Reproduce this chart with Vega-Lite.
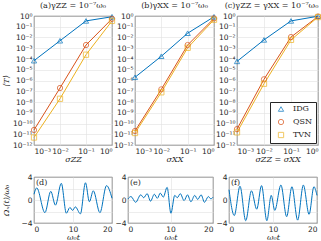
{
"$schema": "https://vega.github.io/schema/vega-lite/v6.json",
"padding": {"left": 1, "top": 1, "right": 0, "bottom": 0},
"background": "white",
"datasets": {
"top": [
{"p":"a","s":"IDG","x":0.001,"y":7e-5},{"p":"a","s":"IDG","x":0.01,"y":5e-3},{"p":"a","s":"IDG","x":0.1,"y":0.35},{"p":"a","s":"IDG","x":1,"y":0.85},
{"p":"a","s":"QSN","x":0.001,"y":2.5e-11},{"p":"a","s":"QSN","x":0.01,"y":2e-7},{"p":"a","s":"QSN","x":0.1,"y":2e-3},{"p":"a","s":"QSN","x":1,"y":0.55},
{"p":"a","s":"TVN","x":0.001,"y":5e-12},{"p":"a","s":"TVN","x":0.01,"y":2e-8},{"p":"a","s":"TVN","x":0.1,"y":2.5e-4},{"p":"a","s":"TVN","x":1,"y":0.35},
{"p":"b","s":"IDG","x":0.001,"y":2e-6},{"p":"b","s":"IDG","x":0.01,"y":1.8e-4},{"p":"b","s":"IDG","x":0.1,"y":2.5e-2},{"p":"b","s":"IDG","x":1,"y":0.85},
{"p":"b","s":"QSN","x":0.001,"y":2e-11},{"p":"b","s":"QSN","x":0.01,"y":1.5e-7},{"p":"b","s":"QSN","x":0.1,"y":2e-3},{"p":"b","s":"QSN","x":1,"y":0.6},
{"p":"b","s":"TVN","x":0.001,"y":1.3e-11},{"p":"b","s":"TVN","x":0.01,"y":8e-8},{"p":"b","s":"TVN","x":0.1,"y":1.1e-3},{"p":"b","s":"TVN","x":1,"y":0.45},
{"p":"c","s":"IDG","x":0.001,"y":6e-5},{"p":"c","s":"IDG","x":0.01,"y":6e-3},{"p":"c","s":"IDG","x":0.1,"y":0.35},{"p":"c","s":"IDG","x":1,"y":0.95},
{"p":"c","s":"QSN","x":0.001,"y":3e-11},{"p":"c","s":"QSN","x":0.01,"y":1.3e-6},{"p":"c","s":"QSN","x":0.1,"y":1.1e-2},{"p":"c","s":"QSN","x":1,"y":0.9},
{"p":"c","s":"TVN","x":0.001,"y":1.5e-11},{"p":"c","s":"TVN","x":0.01,"y":5e-7},{"p":"c","s":"TVN","x":0.1,"y":6e-3},{"p":"c","s":"TVN","x":1,"y":0.8}
],
"bot": [
{"p":"d","t":0,"v":1.0},{"p":"d","t":0.7,"v":2.1},{"p":"d","t":2.8,"v":-2.2},{"p":"d","t":4.3,"v":1.5},{"p":"d","t":5.5,"v":-0.9},{"p":"d","t":7.0,"v":2.9},{"p":"d","t":8.3,"v":-2.3},{"p":"d","t":9.2,"v":-1.3},{"p":"d","t":9.9,"v":-1.8},{"p":"d","t":10.6,"v":-1.2},{"p":"d","t":11.9,"v":-2.4},{"p":"d","t":13.2,"v":3.0},{"p":"d","t":14.2,"v":-0.3},{"p":"d","t":15.2,"v":1.6},{"p":"d","t":16.9,"v":-2.2},{"p":"d","t":18.6,"v":2.5},{"p":"d","t":20,"v":0.3},
{"p":"e","t":0,"v":0.2},{"p":"e","t":0.7,"v":0.6},{"p":"e","t":1.8,"v":-0.4},{"p":"e","t":3.0,"v":0.9},{"p":"e","t":3.7,"v":0.4},{"p":"e","t":4.5,"v":1.1},{"p":"e","t":5.3,"v":-0.2},{"p":"e","t":6.2,"v":1.0},{"p":"e","t":6.9,"v":0.3},{"p":"e","t":7.6,"v":1.2},{"p":"e","t":8.3,"v":0.5},{"p":"e","t":9.2,"v":2.2},{"p":"e","t":10.1,"v":-2.3},{"p":"e","t":11.0,"v":0.8},{"p":"e","t":11.6,"v":0.4},{"p":"e","t":12.3,"v":1.1},{"p":"e","t":13.2,"v":-0.1},{"p":"e","t":14.0,"v":0.9},{"p":"e","t":14.8,"v":-0.3},{"p":"e","t":15.7,"v":0.8},{"p":"e","t":16.4,"v":0.1},{"p":"e","t":17.2,"v":0.9},{"p":"e","t":18.0,"v":-0.4},{"p":"e","t":18.9,"v":0.6},{"p":"e","t":19.5,"v":0.2},{"p":"e","t":20,"v":0.5},
{"p":"f","t":0,"v":1.8},{"p":"f","t":1.2,"v":-2.7},{"p":"f","t":2.5,"v":2.4},{"p":"f","t":3.8,"v":-3.6},{"p":"f","t":5.1,"v":1.6},{"p":"f","t":6.3,"v":-1.6},{"p":"f","t":7.4,"v":2.5},{"p":"f","t":8.6,"v":-3.6},{"p":"f","t":9.6,"v":0.8},{"p":"f","t":10.4,"v":-1.8},{"p":"f","t":11.8,"v":2.6},{"p":"f","t":13.1,"v":-2.9},{"p":"f","t":14.3,"v":2.3},{"p":"f","t":15.6,"v":-3.5},{"p":"f","t":16.9,"v":2.6},{"p":"f","t":18.2,"v":-2.5},{"p":"f","t":19.3,"v":2.3},{"p":"f","t":20,"v":0.8}
]
},
"spacing": 8,
"resolve": {"scale": {"color": "independent", "shape": "independent"}},
"vconcat": [
{
"hconcat": [
{
"width": 78, "height": 129,
"title": {"text": "(a)γZZ = 10⁻⁷ω₀"},
"data": {"name": "top"},
"transform": [{"filter": "datum.p === 'a'"}],
"encoding": {
"x": {"field": "x", "type": "quantitative", "scale": {"type": "log", "domain": [0.001, 1], "nice": false}, "axis": {"values": [0.001, 0.01, 0.1, 1], "labelExpr": "['10⁰','10⁻¹','10⁻²','10⁻³','10⁻⁴','10⁻⁵','10⁻⁶','10⁻⁷','10⁻⁸','10⁻⁹','10⁻¹⁰','10⁻¹¹','10⁻¹²'][round(-log(datum.value)/LN10)]", "title": "σZZ"}},
"y": {"field": "y", "type": "quantitative", "scale": {"type": "log", "domain": [1e-12, 1], "nice": false}, "axis": {"values": [1,0.1,0.01,0.001,0.0001,1e-5,1e-6,1e-7,1e-8,1e-9,1e-10,1e-11,1e-12], "labelExpr": "['10⁰','10⁻¹','10⁻²','10⁻³','10⁻⁴','10⁻⁵','10⁻⁶','10⁻⁷','10⁻⁸','10⁻⁹','10⁻¹⁰','10⁻¹¹','10⁻¹²'][round(-log(datum.value)/LN10)]", "title": "⟨T⟩", "titleX": -24}},
"color": {"field": "s", "type": "nominal", "scale": {"domain": ["IDG","QSN","TVN"], "range": ["#0072BD","#D95319","#EDB120"]}, "legend": null}
},
"layer": [
{"mark": {"type": "line", "strokeWidth": 1}, "encoding": {}},
{"mark": {"type": "point", "filled": false, "size": 28, "strokeWidth": 1}, "encoding": {"shape": {"field": "s", "type": "nominal", "scale": {"domain": ["IDG","QSN","TVN"], "range": ["triangle-up","circle","square"]}, "legend": null}}}
]
},
{
"width": 79, "height": 129,
"title": {"text": "(b)γXX = 10⁻⁷ω₀"},
"data": {"name": "top"},
"transform": [{"filter": "datum.p === 'b'"}],
"encoding": {
"x": {"field": "x", "type": "quantitative", "scale": {"type": "log", "domain": [0.001, 1], "nice": false}, "axis": {"values": [0.001, 0.01, 0.1, 1], "labelExpr": "['10⁰','10⁻¹','10⁻²','10⁻³','10⁻⁴','10⁻⁵','10⁻⁶','10⁻⁷','10⁻⁸','10⁻⁹','10⁻¹⁰','10⁻¹¹','10⁻¹²'][round(-log(datum.value)/LN10)]", "title": "σXX"}},
"y": {"field": "y", "type": "quantitative", "scale": {"type": "log", "domain": [1e-12, 1], "nice": false}, "axis": {"values": [1,0.1,0.01,0.001,0.0001,1e-5,1e-6,1e-7,1e-8,1e-9,1e-10,1e-11,1e-12], "labelExpr": "['10⁰','10⁻¹','10⁻²','10⁻³','10⁻⁴','10⁻⁵','10⁻⁶','10⁻⁷','10⁻⁸','10⁻⁹','10⁻¹⁰','10⁻¹¹','10⁻¹²'][round(-log(datum.value)/LN10)]", "title": null}},
"color": {"field": "s", "type": "nominal", "scale": {"domain": ["IDG","QSN","TVN"], "range": ["#0072BD","#D95319","#EDB120"]}, "legend": null}
},
"layer": [
{"mark": {"type": "line", "strokeWidth": 1}, "encoding": {}},
{"mark": {"type": "point", "filled": false, "size": 28, "strokeWidth": 1}, "encoding": {"shape": {"field": "s", "type": "nominal", "scale": {"domain": ["IDG","QSN","TVN"], "range": ["triangle-up","circle","square"]}, "legend": null}}}
]
},
{
"width": 81, "height": 129,
"title": {"text": "(c)γZZ = γXX = 10⁻⁷ω₀", "dx": -6},
"data": {"name": "top"},
"transform": [{"filter": "datum.p === 'c'"}],
"encoding": {
"x": {"field": "x", "type": "quantitative", "scale": {"type": "log", "domain": [0.001, 1], "nice": false}, "axis": {"values": [0.001, 0.01, 0.1, 1], "labelExpr": "['10⁰','10⁻¹','10⁻²','10⁻³','10⁻⁴','10⁻⁵','10⁻⁶','10⁻⁷','10⁻⁸','10⁻⁹','10⁻¹⁰','10⁻¹¹','10⁻¹²'][round(-log(datum.value)/LN10)]", "title": "σZZ = σXX"}},
"y": {"field": "y", "type": "quantitative", "scale": {"type": "log", "domain": [1e-12, 1], "nice": false}, "axis": {"values": [1,0.1,0.01,0.001,0.0001,1e-5,1e-6,1e-7,1e-8,1e-9,1e-10,1e-11,1e-12], "labelExpr": "['10⁰','10⁻¹','10⁻²','10⁻³','10⁻⁴','10⁻⁵','10⁻⁶','10⁻⁷','10⁻⁸','10⁻⁹','10⁻¹⁰','10⁻¹¹','10⁻¹²'][round(-log(datum.value)/LN10)]", "title": null}},
"color": {"field": "s", "type": "nominal", "scale": {"domain": ["IDG","QSN","TVN"], "range": ["#0072BD","#D95319","#EDB120"]}, "legend": {"title": null, "orient": "bottom-right", "offset": 2}}
},
"layer": [
{"mark": {"type": "line", "strokeWidth": 1}, "encoding": {}},
{"mark": {"type": "point", "filled": false, "size": 28, "strokeWidth": 1}, "encoding": {"shape": {"field": "s", "type": "nominal", "scale": {"domain": ["IDG","QSN","TVN"], "range": ["triangle-up","circle","square"]}, "legend": {"title": null, "orient": "bottom-right", "offset": 2}}}}
]
}
],
"spacing": 23,
"bounds": "flush",
"resolve": {"scale": {"color": "independent", "shape": "independent"}}
},
{
"hconcat": [
{
"width": 78, "height": 46,
"title": {"text": "(d)", "anchor": "start", "offset": -14, "dx": 2},
"data": {"name": "bot"},
"transform": [{"filter": "datum.p === 'd'"}],
"mark": {"type": "line", "strokeWidth": 1, "interpolate": "monotone", "color": "#0072BD"},
"encoding": {
"x": {"field": "t", "type": "quantitative", "scale": {"domain": [0, 20], "nice": false}, "axis": {"values": [0, 10, 20], "title": "ω₀t"}},
"y": {"field": "v", "type": "quantitative", "scale": {"domain": [-4, 4], "nice": false}, "axis": {"values": [-4, -2, 0, 2, 4], "labelExpr": "datum.value % 4 === 0 ? datum.label : ''", "title": "Ωₓ(t)/ω₀", "titleX": -24}}
}
},
{
"width": 85, "height": 46,
"title": {"text": "(e)", "anchor": "start", "offset": -14, "dx": 2},
"data": {"name": "bot"},
"transform": [{"filter": "datum.p === 'e'"}],
"mark": {"type": "line", "strokeWidth": 1, "interpolate": "monotone", "color": "#0072BD"},
"encoding": {
"x": {"field": "t", "type": "quantitative", "scale": {"domain": [0, 20], "nice": false}, "axis": {"values": [0, 10, 20], "title": "ω₀t"}},
"y": {"field": "v", "type": "quantitative", "scale": {"domain": [-4, 4], "nice": false}, "axis": {"values": [-4, -2, 0, 2, 4], "labelExpr": "datum.value % 4 === 0 ? datum.label : ''", "title": null}}
}
},
{
"width": 88, "height": 46,
"title": {"text": "(f)", "anchor": "start", "offset": -14, "dx": 2},
"data": {"name": "bot"},
"transform": [{"filter": "datum.p === 'f'"}],
"mark": {"type": "line", "strokeWidth": 1, "interpolate": "monotone", "color": "#0072BD"},
"encoding": {
"x": {"field": "t", "type": "quantitative", "scale": {"domain": [0, 20], "nice": false}, "axis": {"values": [0, 10, 20], "title": "ω₀t"}},
"y": {"field": "v", "type": "quantitative", "scale": {"domain": [-4, 4], "nice": false}, "axis": {"values": [-4, -2, 0, 2, 4], "labelExpr": "datum.value % 4 === 0 ? datum.label : ''", "title": null}}
}
}
],
"spacing": 16,
"bounds": "flush"
}
],
"config": {
"view": {"stroke": "#262626", "strokeWidth": 0.8},
"axis": {"labelFont": "DejaVu Sans", "labelFontSize": 7.5, "labelColor": "#262626", "labelOverlap": false, "domain": false, "ticks": false, "grid": true, "gridColor": "#e0e0e0", "gridWidth": 0.6, "titleFont": "DejaVu Serif", "titleFontStyle": "italic", "titleFontWeight": "normal", "titleFontSize": 8, "titleColor": "#262626", "labelPadding": 2, "titlePadding": 1},
"title": {"font": "DejaVu Serif", "fontSize": 8, "fontWeight": "normal", "color": "#262626", "offset": 2, "frame": "group"},
"legend": {"padding": 3, "strokeColor": "#262626", "fillColor": "white", "labelFont": "DejaVu Serif", "labelFontSize": 8, "labelColor": "#262626", "symbolSize": 28, "symbolStrokeWidth": 1, "rowPadding": 3, "labelOffset": 8, "symbolOffset": 4}
}
}
